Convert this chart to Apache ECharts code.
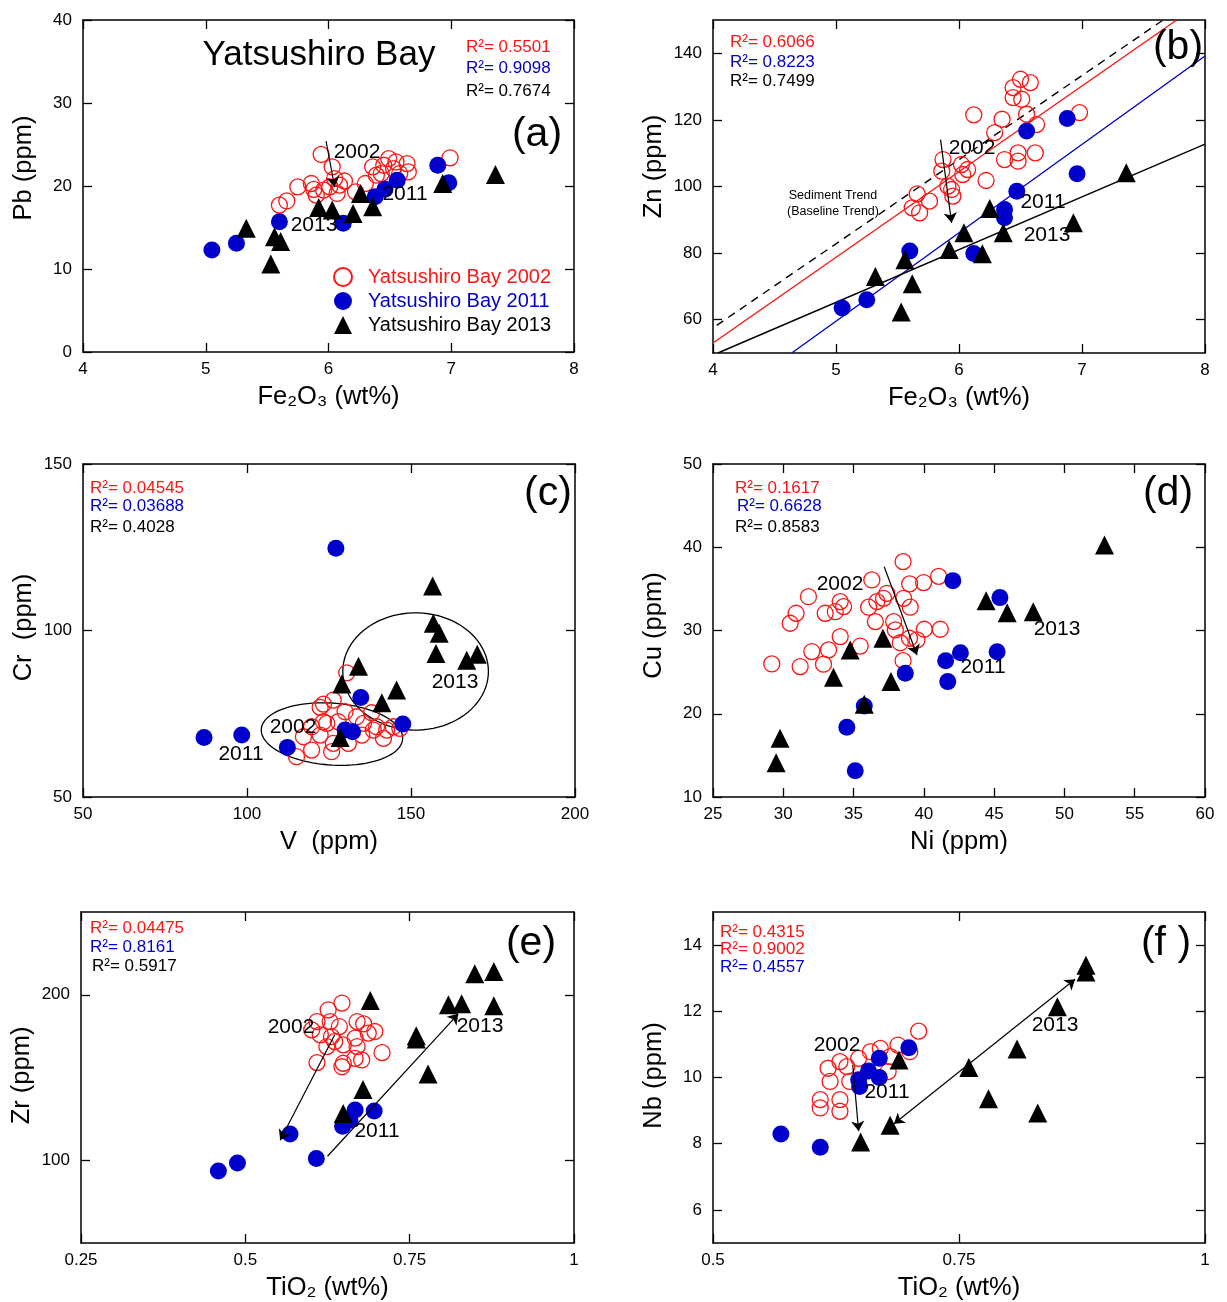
<!DOCTYPE html>
<html>
<head>
<meta charset="utf-8">
<script src="https://cdn.jsdelivr.net/npm/echarts@6/dist/echarts.min.js"></script>
<style>
  html, body { margin: 0; padding: 0; background: #fff; }
  #main { width: 1227px; height: 1302px; }
</style>
</head>
<body>
<div id="main"></div>
<script>
// ---- data ----
// (a) Fe2O3 vs Pb
const a2002 = [[5.94,23.8],[6.03,22.3],[6.99,23.4],[5.60,17.7],[5.66,18.2],[5.75,19.9],[5.86,20.3],[5.88,19.6],[5.90,18.9],[6.01,19.9],[6.05,20.9],[6.09,20.1],[6.13,20.6],[6.22,19.3],[6.30,20.3],[6.36,22.3],[6.39,21.3],[6.45,22.5],[6.49,23.3],[6.53,22.1],[6.58,21.5],[6.64,22.7],[6.65,21.7],[6.55,22.9],[5.96,19.5],[6.07,19.1],[6.43,21.5]];
const a2011 = [[5.05,12.3],[5.25,13.1],[5.60,15.7],[6.12,15.5],[6.38,18.7],[6.46,19.6],[6.56,20.7],[6.89,22.5],[6.98,20.4]];
const a2013 = [[5.33,14.9],[5.53,10.6],[5.56,13.9],[5.61,13.3],[5.92,17.4],[6.03,17.1],[6.20,16.7],[6.26,19.1],[6.36,17.5],[6.93,20.3],[7.36,21.4]];

// (b) Fe2O3 vs Zn
const b2002 = [[6.50,132.2],[6.58,131.2],[6.44,129.7],[6.44,126.7],[6.51,126.2],[6.12,121.5],[6.35,120.2],[6.55,121.7],[6.63,118.6],[6.98,122.2],[6.29,116.2],[5.87,108.1],[6.02,106.6],[6.07,105.1],[6.03,103.6],[5.86,104.6],[5.91,100.1],[6.22,101.8],[6.37,108.1],[6.48,110.1],[6.48,107.6],[6.62,110.1],[5.66,97.8],[5.76,95.6],[5.62,93.6],[5.68,92.1],[5.94,99.1],[5.95,97.1]];
const b2011 = [[6.55,116.7],[6.88,120.4],[6.96,103.8],[6.47,98.6],[6.37,93.1],[6.37,90.6],[5.60,80.6],[6.12,79.9],[5.25,66.0],[5.05,63.5]];
const b2013 = [[7.36,104.1],[6.25,93.4],[6.93,89.1],[6.36,86.1],[6.04,86.1],[5.92,81.1],[6.19,79.8],[5.56,78.0],[5.32,73.0],[5.62,70.8],[5.53,62.3]];
const bTrendSediment = [[4.03,58.3],[7.66,150]];
const bTrend2002 = [[4.0,53.0],[7.77,150]];
const bTrend2011 = [[4.64,50],[8.0,139.2]];
const bTrend2013 = [[4.04,50],[8.0,112.7]];

// (c) V vs Cr
const c2002 = [[130.4,87.3],[123.3,77.9],[126.3,79.1],[122.3,76.9],[129.9,75.6],[138,75.3],[123.3,72.6],[119.7,71.1],[135.5,72.1],[139.5,71.1],[142.6,70.1],[144.6,71.1],[135,68.6],[141.6,67.6],[122.3,68.6],[126.3,66.1],[130.9,66.1],[119.7,64.1],[125.8,63.6],[115.1,62.1],[124.3,72.1],[138.5,70.1],[133.4,74.1],[146.6,70.6],[127.8,72.6],[117.2,68.1]];
const c2011 = [[127.1,124.7],[86.9,67.9],[98.4,68.6],[112.3,64.9],[134.7,79.9],[147.5,71.9],[129.9,70.1],[132.2,69.6]];
const c2013 = [[156.6,113.4],[156.8,102.2],[158.6,99.2],[157.6,93.1],[167,91.1],[170.2,92.9],[134,89.3],[128.9,83.9],[145.6,82.1],[141.1,78.3],[128.4,67.9]];
// ellipse outlines: centre x, centre y, radius x, radius y, tilt (deg)
const cEllipses = [[125.9,68.9,21.6,9.3,4],[151.4,87.7,22.2,17.6,0]];

// (d) Ni vs Cu
const d2002 = [[38.52,38.27],[36.3,36.07],[38.99,35.6],[39.98,35.76],[41.05,36.5],[31.79,34.06],[30.91,32.07],[30.49,30.87],[32.98,32.07],[33.7,32.26],[34.29,32.87],[34.05,33.47],[36.07,32.8],[36.66,33.47],[37.13,33.87],[37.37,34.47],[38.56,33.87],[39.03,32.8],[36.55,31.07],[37.85,31.07],[37.97,30.07],[40.03,30.15],[41.17,30.15],[34.05,29.27],[35.47,28.13],[38.32,28.53],[38.98,29.07],[39.51,28.87],[32.03,27.47],[33.22,27.67],[29.18,25.98],[31.2,25.67],[32.86,25.95],[38.52,26.38]];
const d2011 = [[42.06,35.99],[45.41,33.95],[45.21,27.46],[42.6,27.34],[41.55,26.38],[41.7,23.86],[38.68,24.86],[35.76,20.93],[34.52,18.37],[35.12,13.16]];
const d2013 = [[44.43,33.58],[45.93,32.14],[47.78,32.26],[52.85,40.27],[37.09,29.07],[34.76,27.67],[33.57,24.38],[37.66,23.86],[35.76,21.13],[29.77,17.05],[29.49,14.12]];

// (e) TiO2 vs Zr
const e2002 = [[0.647,195.0],[0.626,190.9],[0.609,183.8],[0.629,183.8],[0.643,180.8],[0.670,183.8],[0.680,182.4],[0.697,177.8],[0.687,176.8],[0.614,175.8],[0.631,174.7],[0.667,173.8],[0.636,171.7],[0.649,169.7],[0.624,168.7],[0.670,168.7],[0.708,165.0],[0.609,159.0],[0.649,158.6],[0.667,161.6],[0.677,160.6],[0.647,156.5],[0.601,178.8]];
const e2011 = [[0.459,93.5],[0.488,98.4],[0.568,115.8],[0.608,101.0],[0.648,120.6],[0.667,130.3],[0.696,129.7],[0.659,124.2]];
const e2013 = [[0.690,196.5],[0.849,212.7],[0.878,214.1],[0.809,193.9],[0.829,194.5],[0.878,193.3],[0.760,175.2],[0.760,173.2],[0.778,152.1],[0.679,142.8],[0.649,128.3]];

// (f) TiO2 vs Nb
const f2002 = [[0.709,11.4],[0.609,9.33],[0.609,9.08],[0.629,9.33],[0.629,8.98],[0.619,9.88],[0.629,10.48],[0.636,10.33],[0.639,9.88],[0.648,10.58],[0.66,10.78],[0.67,10.88],[0.68,10.63],[0.688,10.98],[0.7,10.78],[0.678,10.18],[0.617,10.28]];
const f2011 = [[0.569,8.29],[0.609,7.89],[0.649,9.73],[0.658,10.2],[0.669,10.0],[0.669,10.58],[0.699,10.9],[0.648,9.93]];
const f2013 = [[0.650,8.05],[0.680,8.56],[0.760,10.3],[0.780,9.36],[0.689,10.53],[0.809,10.86],[0.830,8.93],[0.850,12.14],[0.879,13.39],[0.879,13.19]];

// arrows (from, to)
const arrowA = [[5.98,25.4],[6.05,19.9]];
const arrowB = [[5.85,114.1],[5.94,89.1]];
const arrowD = [[37.18,37.66],[39.51,27.05]];
const arrowE1 = [[0.636,175.8],[0.553,112.1]];
const arrowE2 = [[0.625,102.4],[0.824,188.5]];
const arrowF1 = [[0.642,10.38],[0.648,8.38]];
const arrowF2 = [[0.684,8.60],[0.868,12.97]];

// axis ranges / ticks
const xTicksA = [4,5,6,7,8],  yTicksA = [0,10,20,30,40];
const xTicksB = [4,5,6,7,8],  yTicksB = [60,80,100,120,140];
const xTicksC = [50,100,150,200], yTicksC = [50,100,150];
const xTicksD = [25,30,35,40,45,50,55,60], yTicksD = [10,20,30,40,50];
const xTicksE = [0.25,0.5,0.75,1], yTicksE = [100,200];
const xTicksF = [0.5,0.75,1], yTicksF = [6,8,10,12,14];

const FONT = '"Liberation Sans", Arial, "DejaVu Sans", sans-serif';
const RED = '#ff1414';
const BLUE = '#0000cc';
const BLACK = '#000';
const S2002 = 'Yatsushiro Bay 2002';
const S2011 = 'Yatsushiro Bay 2011';
const S2013 = 'Yatsushiro Bay 2013';

let chartDom = echarts.init(document.getElementById('main'));

const grids = [
  { left: 83, top: 20, width: 491, height: 332 },
  { left: 713, top: 20, width: 492, height: 333 },
  { left: 83, top: 464, width: 492, height: 333 },
  { left: 713, top: 464, width: 492, height: 333 },
  { left: 81, top: 912, width: 493, height: 331 },
  { left: 713, top: 912, width: 492, height: 331 },
];

// yShift: the two top y titles sit a bit above the middle
const panels = [
  { x: [4, 8, xTicksA], y: [0, 40, yTicksA], xName: 'Fe\u2082O\u2083 (wt%)', yName: 'Pb (ppm)', yShift: 36 },
  { x: [4, 8, xTicksB], y: [50, 150, yTicksB], xName: 'Fe\u2082O\u2083 (wt%)', yName: 'Zn (ppm)', yShift: 40 },
  { x: [50, 200, xTicksC], y: [50, 150, yTicksC], xName: 'V  (ppm)', yName: 'Cr  (ppm)', yShift: 6 },
  { x: [25, 60, xTicksD], y: [10, 50, yTicksD], xName: 'Ni (ppm)', yName: 'Cu (ppm)', yShift: 10 },
  { x: [0.25, 1, xTicksE], y: [50, 250, yTicksE], xName: 'TiO\u2082 (wt%)', yName: 'Zr (ppm)', yShift: 4 },
  { x: [0.5, 1, xTicksF], y: [5, 15, yTicksF], xName: 'TiO\u2082 (wt%)', yName: 'Nb (ppm)', yShift: 4 },
];

let xAxes = [];
let yAxes = [];
panels.forEach((p, i) => {
  const line = { show: true, onZero: false, lineStyle: { color: BLACK, width: 1.5 } };
  const tick = (vals) => ({ show: true, inside: true, length: 9, customValues: vals, lineStyle: { color: BLACK, width: 1.3 } });
  xAxes.push({
    type: 'value', gridIndex: i, position: 'bottom', min: p.x[0], max: p.x[1],
    axisLine: line, axisTick: tick(p.x[2]), splitLine: { show: false },
    axisLabel: { customValues: p.x[2], margin: 9, color: BLACK, fontSize: 17, fontFamily: FONT },
    name: p.xName, nameLocation: 'middle', nameGap: 32,
    nameTextStyle: { color: BLACK, fontSize: 25.5, fontFamily: FONT },
  });
  xAxes.push({
    type: 'value', gridIndex: i, position: 'top', min: p.x[0], max: p.x[1],
    axisLine: line, axisTick: tick(p.x[2]), axisLabel: { show: false }, splitLine: { show: false },
  });
  yAxes.push({
    type: 'value', gridIndex: i, position: 'left', min: p.y[0], max: p.y[1],
    axisLine: line, axisTick: tick(p.y[2]), splitLine: { show: false },
    axisLabel: { customValues: p.y[2], margin: 11, color: BLACK, fontSize: 17, fontFamily: FONT },
    name: p.yName, nameLocation: 'middle', nameGap: 46,
    nameTextStyle: { color: BLACK, fontSize: 25.5, fontFamily: FONT, padding: [0, 0, 0, p.yShift] },
  });
  yAxes.push({
    type: 'value', gridIndex: i, position: 'right', min: p.y[0], max: p.y[1],
    axisLine: line, axisTick: tick(p.y[2]), axisLabel: { show: false }, splitLine: { show: false },
  });
});

function arrowLine(pair, both) {
  return [
    { coord: pair[0], symbol: both ? 'arrow' : 'none' },
    { coord: pair[1], symbol: 'arrow' },
  ];
}

function marks(arrows) {
  return {
    silent: true,
    symbolSize: 10,
    label: { show: false },
    lineStyle: { color: BLACK, width: 1.2, type: 'solid', opacity: 1 },
    data: arrows,
  };
}

function scatterSet(i, d02, d11, d13, arrows) {
  const idx = { xAxisIndex: i * 2, yAxisIndex: i * 2 };
  return [
    Object.assign({
      name: S2002, type: 'scatter', data: d02, symbol: 'circle', symbolSize: 16,
      itemStyle: { color: 'rgba(255,255,255,0)', borderColor: RED, borderWidth: 1.3, opacity: 1 },
      markLine: arrows ? marks(arrows) : undefined,
    }, idx),
    Object.assign({
      name: S2011, type: 'scatter', data: d11, symbol: 'circle', symbolSize: 17,
      itemStyle: { color: BLUE, opacity: 1 },
    }, idx),
    Object.assign({
      name: S2013, type: 'scatter', data: d13, symbol: 'triangle', symbolSize: 19,
      itemStyle: { color: BLACK, opacity: 1 },
    }, idx),
  ];
}

function trend(data, color, dashed) {
  return {
    type: 'line', xAxisIndex: 2, yAxisIndex: 2, data: data, showSymbol: false, symbol: 'none',
    silent: true, clip: true, z: 1,
    lineStyle: { color: color, width: 1.4, type: dashed ? [8, 6] : 'solid' },
  };
}

function renderEllipse(params, api) {
  const c = api.coord([api.value(0), api.value(1)]);
  const s = api.size([api.value(2), api.value(3)]);
  const rot = api.value(4) * Math.PI / 180;
  let pts = [];
  for (let k = 0; k <= 90; k++) {
    const t = (k / 90) * Math.PI * 2;
    const ex = s[0] * Math.cos(t), ey = s[1] * Math.sin(t);
    pts.push([c[0] + ex * Math.cos(rot) - ey * Math.sin(rot), c[1] + ex * Math.sin(rot) + ey * Math.cos(rot)]);
  }
  return { type: 'polyline', shape: { points: pts }, style: { stroke: BLACK, fill: 'none', lineWidth: 1.3 } };
}

let series = [
  trend(bTrendSediment, BLACK, true),
  trend(bTrend2002, RED, false),
  trend(bTrend2011, BLUE, false),
  trend(bTrend2013, BLACK, false),
  {
    type: 'custom', xAxisIndex: 4, yAxisIndex: 4, data: cEllipses, renderItem: renderEllipse,
    encode: { x: 0, y: 1 }, silent: true, z: 1,
  },
];
series = series.concat(
  scatterSet(0, a2002, a2011, a2013, [arrowLine(arrowA)]),
  scatterSet(1, b2002, b2011, b2013, [arrowLine(arrowB)]),
  scatterSet(2, c2002, c2011, c2013, null),
  scatterSet(3, d2002, d2011, d2013, [arrowLine(arrowD)]),
  scatterSet(4, e2002, e2011, e2013, [arrowLine(arrowE1), arrowLine(arrowE2)]),
  scatterSet(5, f2002, f2011, f2013, [arrowLine(arrowF1), arrowLine(arrowF2, true)]),
);

function txt(x, y, text, size, color, align) {
  return {
    type: 'text', x: x, y: y, silent: true, z: 10,
    style: {
      text: text, fill: color || BLACK, fontSize: size, fontFamily: FONT,
      align: align || 'center', verticalAlign: 'middle',
      textAlign: align || 'center', textVerticalAlign: 'middle',
    },
  };
}

const R2 = 'R\u00b2= ';
const RS = 17;  // R² text size
const YS = 21;  // year label size
let graphics = [
  // (a)
  txt(319, 55, 'Yatsushiro Bay', 35),
  txt(466, 47, R2 + '0.5501', RS, RED, 'left'),
  txt(466, 68, R2 + '0.9098', RS, BLUE, 'left'),
  txt(466, 91, R2 + '0.7674', RS, BLACK, 'left'),
  txt(537, 135, '(a)', 41),
  txt(357, 152, '2002', YS), txt(405, 194, '2011', YS), txt(314, 225, '2013', YS),
  // (b)
  txt(730, 42, R2 + '0.6066', RS, RED, 'left'),
  txt(730, 62, R2 + '0.8223', RS, BLUE, 'left'),
  txt(730, 81, R2 + '0.7499', RS, BLACK, 'left'),
  txt(1178, 48, '(b)', 41),
  txt(833, 196, 'Sediment Trend', 12.5),
  txt(833, 212, '(Baseline Trend)', 12.5),
  txt(972, 148, '2002', YS), txt(1043, 202, '2011', YS), txt(1047, 235, '2013', YS),
  // (c)
  txt(90, 488, R2 + '0.04545', RS, RED, 'left'),
  txt(90, 506, R2 + '0.03688', RS, BLUE, 'left'),
  txt(90, 527, R2 + '0.4028', RS, BLACK, 'left'),
  txt(548, 494, '(c)', 41),
  txt(293, 727, '2002', YS), txt(241, 754, '2011', YS), txt(455, 682, '2013', YS),
  // (d)
  txt(735, 488, R2 + '0.1617', RS, RED, 'left'),
  txt(737, 506, R2 + '0.6628', RS, BLUE, 'left'),
  txt(735, 527, R2 + '0.8583', RS, BLACK, 'left'),
  txt(1168, 494, '(d)', 41),
  txt(840, 584, '2002', YS), txt(983, 667, '2011', YS), txt(1057, 629, '2013', YS),
  // (e)
  txt(90, 928, R2 + '0.04475', RS, RED, 'left'),
  txt(90, 947, R2 + '0.8161', RS, BLUE, 'left'),
  txt(92, 966, R2 + '0.5917', RS, BLACK, 'left'),
  txt(531, 944, '(e)', 41),
  txt(291, 1027, '2002', YS), txt(377, 1131, '2011', YS), txt(480, 1026, '2013', YS),
  // (f)
  txt(720, 932, R2 + '0.4315', RS, RED, 'left'),
  txt(720, 949, R2 + '0.9002', RS, RED, 'left'),
  txt(720, 967, R2 + '0.4557', RS, BLUE, 'left'),
  txt(1166, 944, '(f )', 41),
  txt(837, 1045, '2002', YS), txt(887, 1092, '2011', YS), txt(1055, 1025, '2013', YS),
];

chartDom.setOption({
  animation: false,
  backgroundColor: '#fff',
  grid: grids,
  xAxis: xAxes,
  yAxis: yAxes,
  legend: {
    orient: 'vertical',
    left: 328,
    top: 262,
    itemWidth: 18,
    itemHeight: 18,
    itemGap: 4,
    selectedMode: false,
    textStyle: { fontSize: 20, lineHeight: 20, fontFamily: FONT, padding: [0, 0, 0, 11] },
    data: [
      { name: S2002, textStyle: { color: RED } },
      { name: S2011, textStyle: { color: BLUE } },
      { name: S2013, textStyle: { color: BLACK } },
    ],
  },
  graphic: graphics,
  series: series,
});

window.addEventListener('resize', () => {
  chartDom.resize();
});
</script>
</body>
</html>
